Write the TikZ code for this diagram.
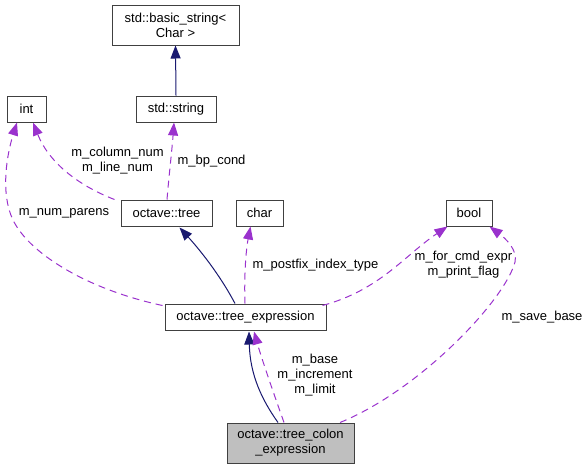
\documentclass[tikz,border=0pt]{standalone}
\usepackage{fontspec}
\setmainfont{Liberation Sans}
\usetikzlibrary{arrows.meta}
\definecolor{edgepurple}{HTML}{9A32CD}
\definecolor{edgenavy}{HTML}{191970}
\definecolor{boxborder}{HTML}{404040}
\definecolor{boxgrey}{HTML}{BFBFBF}
\begin{document}
\begin{tikzpicture}[x=1pt,y=-1pt,
  cls/.style={draw=boxborder, line width=1pt, fill=white, inner sep=0pt,
    font=\fontsize{13pt}{15pt}\selectfont, align=center},
  memb/.style={draw=edgepurple, line width=1pt, dash pattern=on 7pt off 5pt,
    -{Triangle[length=13pt,width=10pt]}},
  inh/.style={draw=edgenavy, line width=1pt, -{Triangle[length=13pt,width=10pt]}},
  lbl/.style={font=\fontsize{13pt}{15pt}\selectfont, align=center, inner sep=0pt}]
\useasboundingbox (0,0) rectangle (588,469);

\node[cls, minimum width=127pt, minimum height=40pt] (bs) at (175.5,25) {std::basic\_string<\\Char >};
\node[cls, minimum width=39pt, minimum height=26pt] (int) at (26.5,109) {int};
\node[cls, minimum width=80pt, minimum height=26pt] (str) at (176,109) {std::string};
\node[cls, minimum width=91pt, minimum height=26pt] (tree) at (166.5,213) {octave::tree};
\node[cls, minimum width=47pt, minimum height=26pt] (char) at (259.5,213) {char};
\node[cls, minimum width=46pt, minimum height=26pt] (bool) at (469,213) {bool};
\node[cls, minimum width=161pt, minimum height=26pt] (te) at (245.5,317) {octave::tree\_expression};
\node[cls, fill=boxgrey, minimum width=127pt, minimum height=40pt] (tce) at (290.5,443) {octave::tree\_colon\\\_expression};

% inheritance
\draw[inh] (str.north) -- (bs.south);
\draw[inh] ([xshift=70.5pt]te.north west) .. controls (220,275) and (200,250) .. ([xshift=13pt,yshift=-1pt]tree.south);
\draw[inh] ([xshift=-12.5pt]tce.north) .. controls (262,400) and (250,375) .. ([xshift=3.5pt,yshift=-1pt]te.south);

% members
\draw[memb] ([xshift=0.5pt]tree.north) .. controls (169,175) and (172,150) .. ([xshift=-2pt]str.south);
\draw[memb] ([xshift=-6pt]tree.north west) .. controls (82,187) and (50,165) .. ([xshift=6.5pt]int.south);
\draw[memb] ([xshift=-2pt,yshift=-2pt]te.north west) .. controls (90,290) and (30,255) .. (13,220)
   .. controls (0,193) and (7,154) .. ([xshift=-9.5pt]int.south);
\draw[memb] ([xshift=-0.5pt]te.north) .. controls (244,275) and (246,250) .. ([xshift=-9pt]char.south);
\draw[memb] ([xshift=-4pt,yshift=-2pt]te.north east) .. controls (380,290) and (405,255) .. ([xshift=2pt]bool.south west);
\draw[memb] ([xshift=49.5pt]tce.north) .. controls (420,390) and (505,300) .. (515,262)
   .. controls (518,250) and (505,238) .. ([xshift=-3pt]bool.south east);
\draw[memb] ([xshift=-6.5pt]tce.north) .. controls (276,400) and (262,360) .. ([xshift=8.5pt,yshift=-1pt]te.south);

% labels
\node[lbl] (l1) at (211.5,161) {m\_bp\_cond};
\node[lbl] (l2) at (117.5,160.5) {m\_column\_num\\m\_line\_num};
\node[lbl] (l3) at (64,213) {m\_num\_parens};
\node[lbl] (l4) at (315.5,265) {m\_postfix\_index\_type};
\node[lbl] (l5) at (463.5,264.5) {m\_for\_cmd\_expr\\m\_print\_flag};
\node[lbl] (l6) at (542,317) {m\_save\_base};
\node[lbl] (l7) at (315,375.5) {m\_base\\m\_increment\\m\_limit};
\end{tikzpicture}
\end{document}
